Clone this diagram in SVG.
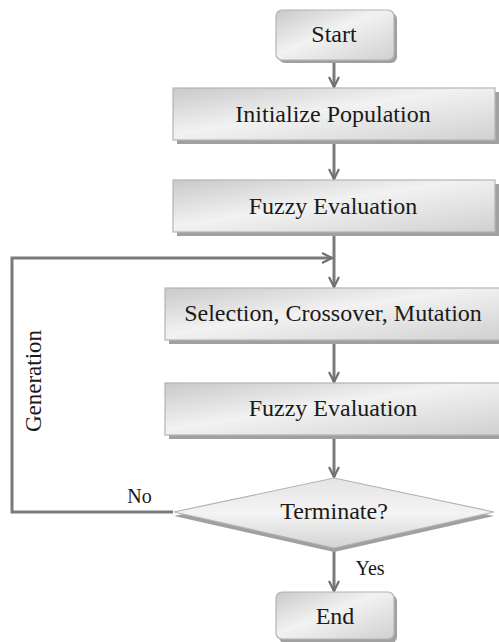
<svg xmlns="http://www.w3.org/2000/svg" width="499" height="642" viewBox="0 0 499 642">
<defs>
<linearGradient id="g" x1="0" y1="0" x2="1" y2="1">
<stop offset="0" stop-color="#c9c9c9"/>
<stop offset="0.45" stop-color="#f2f2f2"/>
<stop offset="1" stop-color="#d0d0d0"/>
</linearGradient>
<linearGradient id="gd" x1="0" y1="0" x2="0" y2="1">
<stop offset="0" stop-color="#e4e4e4"/>
<stop offset="0.5" stop-color="#f4f4f4"/>
<stop offset="1" stop-color="#d4d4d4"/>
</linearGradient>
<marker id="ah" viewBox="0 0 12 12" refX="11" refY="6" markerWidth="12" markerHeight="12" markerUnits="userSpaceOnUse" orient="auto">
<path d="M1,1 L11,6 L1,11" fill="none" stroke="#707070" stroke-width="2.2"/>
</marker>
<style>
.box{fill:url(#g);stroke:#b4b4b4;stroke-width:1.2}
.sh{fill:#a0a0a0}
.t{font-size:24px;fill:#1a1a1a;text-anchor:middle}
.c{fill:none;stroke:#7a7a7a;stroke-width:3}
</style>
</defs>
<g id="connectors">
<line class="c" x1="334" y1="60" x2="334" y2="87" marker-end="url(#ah)"/>
<line class="c" x1="334" y1="140" x2="334" y2="179" marker-end="url(#ah)"/>
<line class="c" x1="334" y1="232" x2="334" y2="287" marker-end="url(#ah)"/>
<line class="c" x1="334" y1="340" x2="334" y2="382" marker-end="url(#ah)"/>
<line class="c" x1="334" y1="435" x2="334" y2="477" marker-end="url(#ah)"/>
<line class="c" x1="334" y1="549" x2="334" y2="591" marker-end="url(#ah)"/>
<polyline class="c" points="173,512 12,512 12,258 332,258" marker-end="url(#ah)"/>
</g>
<g font-family="'Liberation Serif', 'Times New Roman', 'DejaVu Serif', serif">
<g id="start">
<rect class="sh" x="279" y="13" width="118" height="50" rx="6"/>
<rect class="box" x="276" y="10" width="118" height="50" rx="6"/>
<text class="t" x="334" y="42">Start</text>
</g>
<g id="init">
<rect class="sh" x="177" y="92" width="322" height="52"/>
<rect class="box" x="173" y="88" width="322" height="52"/>
<text class="t" x="333" y="122">Initialize Population</text>
</g>
<g id="fuzzy1">
<rect class="sh" x="177" y="184" width="322" height="52"/>
<rect class="box" x="173" y="180" width="322" height="52"/>
<text class="t" x="333" y="214">Fuzzy Evaluation</text>
</g>
<g id="selection">
<rect class="sh" x="169" y="292" width="334" height="52"/>
<rect class="box" x="165" y="288" width="338" height="52"/>
<text class="t" x="333" y="321">Selection, Crossover, Mutation</text>
</g>
<g id="fuzzy2">
<rect class="sh" x="169" y="387" width="334" height="52"/>
<rect class="box" x="165" y="383" width="338" height="52"/>
<text class="t" x="333" y="416">Fuzzy Evaluation</text>
</g>
<g id="terminate">
<polygon class="sh" points="334,482 494,516 334,552 174,516"/>
<polygon fill="url(#gd)" stroke="#b4b4b4" stroke-width="1.2" points="334,478 494,512 334,548 174,512"/>
<text class="t" x="334" y="519">Terminate?</text>
</g>
<g id="end">
<rect class="sh" x="279" y="595" width="118" height="48" rx="6"/>
<rect class="box" x="276" y="592" width="118" height="47" rx="6"/>
<text class="t" x="335" y="624">End</text>
</g>
<g id="labels">
<text class="t" x="139.5" y="503" style="font-size:20px">No</text>
<text class="t" x="370" y="575" style="font-size:20px">Yes</text>
<text class="t" transform="translate(41,381) rotate(-90)" style="font-size:23px">Generation</text>
</g>
</g>
</svg>
